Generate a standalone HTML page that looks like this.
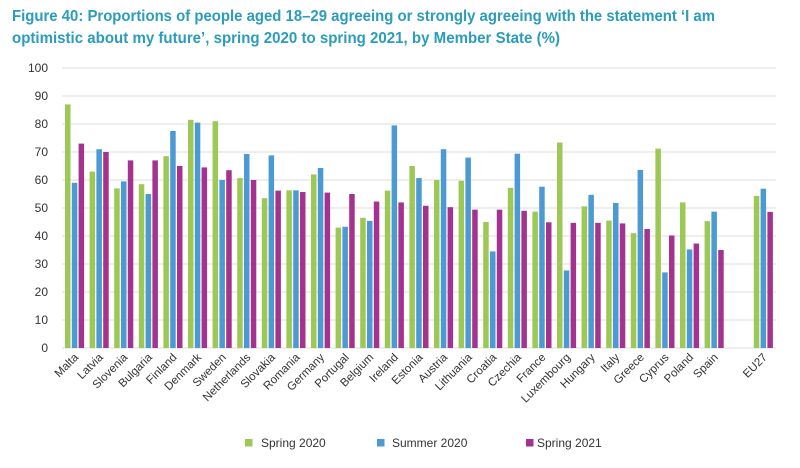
<!DOCTYPE html>
<html><head><meta charset="utf-8"><style>
html,body{margin:0;padding:0;background:#fff;}
svg{display:block;font-family:"Liberation Sans",sans-serif;}
.g{fill:#9dc855}.b{fill:#4b9ad4}.p{fill:#a3338f}
.yl{font-size:12px;fill:#333;text-anchor:end}
.xl{font-size:11.5px;fill:#333;text-anchor:end}
</style></head><body>
<svg width="800" height="468" viewBox="0 0 800 468" xmlns="http://www.w3.org/2000/svg">
<text x="12" y="21" font-size="15.5" font-weight="bold" fill="#2a9cbc" textLength="703" lengthAdjust="spacingAndGlyphs">Figure 40: Proportions of people aged 18–29 agreeing or strongly agreeing with the statement ‘I am</text>
<text x="12" y="43" font-size="15.5" font-weight="bold" fill="#2a9cbc" textLength="548" lengthAdjust="spacingAndGlyphs">optimistic about my future’, spring 2020 to spring 2021, by Member State (%)</text>
<g stroke="#dcdcdc" stroke-width="1">
<line x1="62" x2="776" y1="68" y2="68"/><line x1="62" x2="776" y1="96" y2="96"/><line x1="62" x2="776" y1="124" y2="124"/><line x1="62" x2="776" y1="152" y2="152"/><line x1="62" x2="776" y1="180" y2="180"/><line x1="62" x2="776" y1="208" y2="208"/><line x1="62" x2="776" y1="236" y2="236"/><line x1="62" x2="776" y1="264" y2="264"/><line x1="62" x2="776" y1="292" y2="292"/><line x1="62" x2="776" y1="320" y2="320"/><line x1="62" x2="776" y1="348" y2="348"/>
</g>
<g class="yl">
<text x="48" y="72">100</text><text x="48" y="100">90</text><text x="48" y="128">80</text><text x="48" y="156">70</text><text x="48" y="184">60</text><text x="48" y="212">50</text><text x="48" y="240">40</text><text x="48" y="268">30</text><text x="48" y="296">20</text><text x="48" y="324">10</text><text x="48" y="352">0</text>
</g>
<g transform="translate(65,348) scale(1,-2.8)"><rect class="g" x="0" width="5.5" height="87"/><rect class="b" x="6.8" width="5.5" height="59"/><rect class="p" x="13.6" width="5.5" height="73"/></g>
<g transform="translate(89.6,348) scale(1,-2.8)"><rect class="g" x="0" width="5.5" height="63"/><rect class="b" x="6.8" width="5.5" height="71"/><rect class="p" x="13.6" width="5.5" height="70"/></g>
<g transform="translate(114.2,348) scale(1,-2.8)"><rect class="g" x="0" width="5.5" height="57"/><rect class="b" x="6.8" width="5.5" height="59.5"/><rect class="p" x="13.6" width="5.5" height="67"/></g>
<g transform="translate(138.8,348) scale(1,-2.8)"><rect class="g" x="0" width="5.5" height="58.5"/><rect class="b" x="6.8" width="5.5" height="55"/><rect class="p" x="13.6" width="5.5" height="67"/></g>
<g transform="translate(163.4,348) scale(1,-2.8)"><rect class="g" x="0" width="5.5" height="68.5"/><rect class="b" x="6.8" width="5.5" height="77.5"/><rect class="p" x="13.6" width="5.5" height="65"/></g>
<g transform="translate(188,348) scale(1,-2.8)"><rect class="g" x="0" width="5.5" height="81.5"/><rect class="b" x="6.8" width="5.5" height="80.5"/><rect class="p" x="13.6" width="5.5" height="64.5"/></g>
<g transform="translate(212.6,348) scale(1,-2.8)"><rect class="g" x="0" width="5.5" height="81"/><rect class="b" x="6.8" width="5.5" height="60"/><rect class="p" x="13.6" width="5.5" height="63.5"/></g>
<g transform="translate(237.2,348) scale(1,-2.8)"><rect class="g" x="0" width="5.5" height="60.7"/><rect class="b" x="6.8" width="5.5" height="69.3"/><rect class="p" x="13.6" width="5.5" height="60"/></g>
<g transform="translate(261.8,348) scale(1,-2.8)"><rect class="g" x="0" width="5.5" height="53.5"/><rect class="b" x="6.8" width="5.5" height="68.8"/><rect class="p" x="13.6" width="5.5" height="56.2"/></g>
<g transform="translate(286.4,348) scale(1,-2.8)"><rect class="g" x="0" width="5.5" height="56.3"/><rect class="b" x="6.8" width="5.5" height="56.3"/><rect class="p" x="13.6" width="5.5" height="55.7"/></g>
<g transform="translate(311,348) scale(1,-2.8)"><rect class="g" x="0" width="5.5" height="62"/><rect class="b" x="6.8" width="5.5" height="64.3"/><rect class="p" x="13.6" width="5.5" height="55.5"/></g>
<g transform="translate(335.6,348) scale(1,-2.8)"><rect class="g" x="0" width="5.5" height="43"/><rect class="b" x="6.8" width="5.5" height="43.3"/><rect class="p" x="13.6" width="5.5" height="55"/></g>
<g transform="translate(360.2,348) scale(1,-2.8)"><rect class="g" x="0" width="5.5" height="46.5"/><rect class="b" x="6.8" width="5.5" height="45.4"/><rect class="p" x="13.6" width="5.5" height="52.3"/></g>
<g transform="translate(384.8,348) scale(1,-2.8)"><rect class="g" x="0" width="5.5" height="56.2"/><rect class="b" x="6.8" width="5.5" height="79.5"/><rect class="p" x="13.6" width="5.5" height="52"/></g>
<g transform="translate(409.4,348) scale(1,-2.8)"><rect class="g" x="0" width="5.5" height="65"/><rect class="b" x="6.8" width="5.5" height="60.7"/><rect class="p" x="13.6" width="5.5" height="50.8"/></g>
<g transform="translate(434,348) scale(1,-2.8)"><rect class="g" x="0" width="5.5" height="60"/><rect class="b" x="6.8" width="5.5" height="71"/><rect class="p" x="13.6" width="5.5" height="50.3"/></g>
<g transform="translate(458.6,348) scale(1,-2.8)"><rect class="g" x="0" width="5.5" height="59.7"/><rect class="b" x="6.8" width="5.5" height="68"/><rect class="p" x="13.6" width="5.5" height="49.4"/></g>
<g transform="translate(483.2,348) scale(1,-2.8)"><rect class="g" x="0" width="5.5" height="45"/><rect class="b" x="6.8" width="5.5" height="34.5"/><rect class="p" x="13.6" width="5.5" height="49.4"/></g>
<g transform="translate(507.8,348) scale(1,-2.8)"><rect class="g" x="0" width="5.5" height="57.2"/><rect class="b" x="6.8" width="5.5" height="69.4"/><rect class="p" x="13.6" width="5.5" height="49"/></g>
<g transform="translate(532.4,348) scale(1,-2.8)"><rect class="g" x="0" width="5.5" height="48.7"/><rect class="b" x="6.8" width="5.5" height="57.6"/><rect class="p" x="13.6" width="5.5" height="44.9"/></g>
<g transform="translate(557,348) scale(1,-2.8)"><rect class="g" x="0" width="5.5" height="73.4"/><rect class="b" x="6.8" width="5.5" height="27.7"/><rect class="p" x="13.6" width="5.5" height="44.7"/></g>
<g transform="translate(581.6,348) scale(1,-2.8)"><rect class="g" x="0" width="5.5" height="50.6"/><rect class="b" x="6.8" width="5.5" height="54.7"/><rect class="p" x="13.6" width="5.5" height="44.7"/></g>
<g transform="translate(606.2,348) scale(1,-2.8)"><rect class="g" x="0" width="5.5" height="45.5"/><rect class="b" x="6.8" width="5.5" height="51.8"/><rect class="p" x="13.6" width="5.5" height="44.5"/></g>
<g transform="translate(630.8,348) scale(1,-2.8)"><rect class="g" x="0" width="5.5" height="41"/><rect class="b" x="6.8" width="5.5" height="63.6"/><rect class="p" x="13.6" width="5.5" height="42.5"/></g>
<g transform="translate(655.4,348) scale(1,-2.8)"><rect class="g" x="0" width="5.5" height="71.2"/><rect class="b" x="6.8" width="5.5" height="27"/><rect class="p" x="13.6" width="5.5" height="40.2"/></g>
<g transform="translate(680,348) scale(1,-2.8)"><rect class="g" x="0" width="5.5" height="52"/><rect class="b" x="6.8" width="5.5" height="35.2"/><rect class="p" x="13.6" width="5.5" height="37.3"/></g>
<g transform="translate(704.6,348) scale(1,-2.8)"><rect class="g" x="0" width="5.5" height="45.3"/><rect class="b" x="6.8" width="5.5" height="48.7"/><rect class="p" x="13.6" width="5.5" height="35"/></g>
<g transform="translate(753.8,348) scale(1,-2.8)"><rect class="g" x="0" width="5.5" height="54.3"/><rect class="b" x="6.8" width="5.5" height="56.9"/><rect class="p" x="13.6" width="5.5" height="48.6"/></g>
<g class="xl">
<text transform="translate(79,358) rotate(-45)">Malta</text>
<text transform="translate(103.6,358) rotate(-45)">Latvia</text>
<text transform="translate(128.2,358) rotate(-45)">Slovenia</text>
<text transform="translate(152.8,358) rotate(-45)">Bulgaria</text>
<text transform="translate(177.4,358) rotate(-45)">Finland</text>
<text transform="translate(202,358) rotate(-45)">Denmark</text>
<text transform="translate(226.6,358) rotate(-45)">Sweden</text>
<text transform="translate(251.2,358) rotate(-45)">Netherlands</text>
<text transform="translate(275.8,358) rotate(-45)">Slovakia</text>
<text transform="translate(300.4,358) rotate(-45)">Romania</text>
<text transform="translate(325,358) rotate(-45)">Germany</text>
<text transform="translate(349.6,358) rotate(-45)">Portugal</text>
<text transform="translate(374.2,358) rotate(-45)">Belgium</text>
<text transform="translate(398.8,358) rotate(-45)">Ireland</text>
<text transform="translate(423.4,358) rotate(-45)">Estonia</text>
<text transform="translate(448,358) rotate(-45)">Austria</text>
<text transform="translate(472.6,358) rotate(-45)">Lithuania</text>
<text transform="translate(497.2,358) rotate(-45)">Croatia</text>
<text transform="translate(521.8,358) rotate(-45)">Czechia</text>
<text transform="translate(546.4,358) rotate(-45)">France</text>
<text transform="translate(571,358) rotate(-45)">Luxembourg</text>
<text transform="translate(595.6,358) rotate(-45)">Hungary</text>
<text transform="translate(620.2,358) rotate(-45)">Italy</text>
<text transform="translate(644.8,358) rotate(-45)">Greece</text>
<text transform="translate(669.4,358) rotate(-45)">Cyprus</text>
<text transform="translate(694,358) rotate(-45)">Poland</text>
<text transform="translate(718.6,358) rotate(-45)">Spain</text>
<text transform="translate(767.8,358) rotate(-45)">EU27</text>
</g>
<rect class="g" x="245" y="439" width="7.5" height="7.5"/>
<text x="261" y="447" font-size="12" fill="#333">Spring 2020</text>
<rect class="b" x="377" y="439" width="7.5" height="7.5"/>
<text x="392" y="447" font-size="12" fill="#333">Summer 2020</text>
<rect class="p" x="526" y="439" width="7.5" height="7.5"/>
<text x="537" y="447" font-size="12" fill="#333">Spring 2021</text>
</svg>
</body></html>
